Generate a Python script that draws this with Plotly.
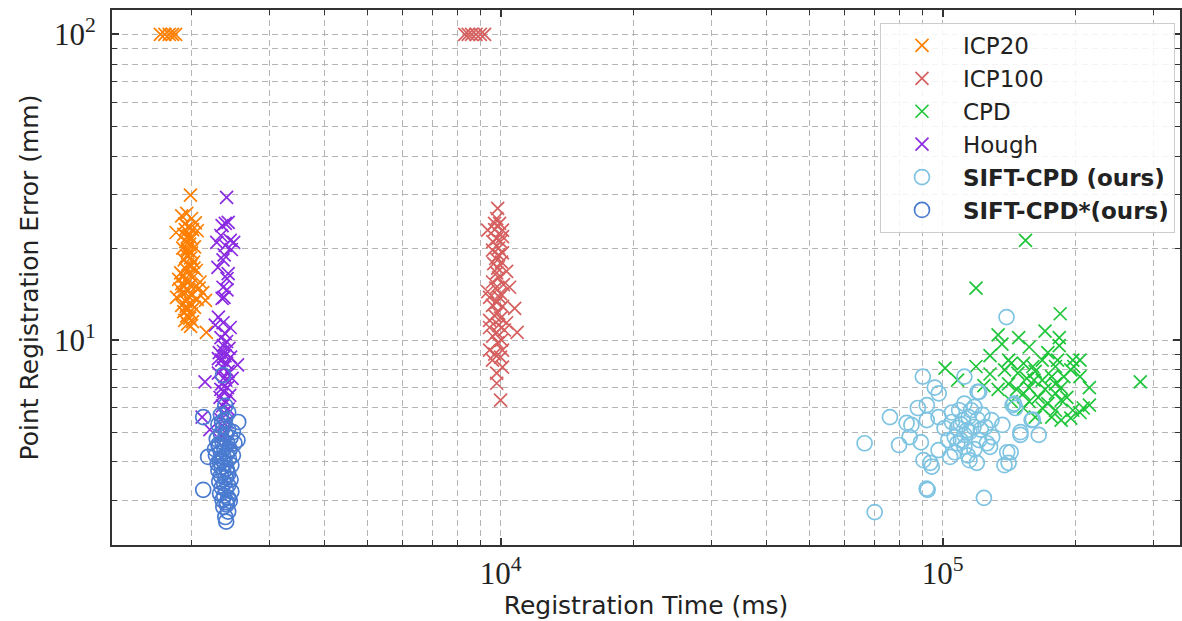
import plotly.graph_objects as go

# ---------------- data ----------------
icp20_time = [1700, 1740, 1780, 1810, 1840,
              1988, 1845, 2160, 1900, 1950, 2000, 2040, 1930, 1970, 2010, 2060, 1920, 1960,
              2000, 1940, 1980, 2030, 1910, 1960, 2000, 1950, 1990, 1925, 2020, 1960, 1990,
              1940, 2050, 1890, 1980, 1920, 2010, 1870, 1950, 2090, 1900, 1985, 2040, 1880,
              1960, 2120, 1910, 2000, 1850, 2060, 1940, 2150, 1990, 1900, 2030, 1960, 1920,
              2000, 1950, 1980, 1930, 2010, 1960, 1990, 1945, 2080, 1970, 1925, 2025, 1955,
              1975, 1935]
icp20_err = [100, 100, 100, 100, 100,
             29.8, 22.5, 10.6, 25.5, 26.0, 25.0, 24.2, 24.0, 23.5, 23.0, 22.8, 22.2, 21.8,
             21.5, 21.0, 20.6, 20.2, 20.0, 19.6, 19.3, 18.9, 18.6, 18.3, 18.0, 17.7, 17.4,
             17.1, 16.9, 16.6, 16.4, 16.2, 16.0, 15.8, 15.6, 15.5, 15.3, 15.1, 14.9, 14.7,
             14.5, 14.3, 14.2, 14.0, 13.8, 13.6, 13.4, 13.5, 13.2, 13.0, 12.8, 12.6, 12.4,
             12.2, 12.0, 11.8, 11.6, 11.5, 11.3, 11.1, 12.9, 14.8, 13.9, 15.0, 17.2, 19.9,
             22.0, 23.0]

icp100_time = [8300, 8450, 8600, 8800, 9000, 9200,
               9850, 9350, 9690, 9950, 10100, 9800, 9590, 10100, 9850, 9800, 10320, 9590,
               10480, 9350, 9444, 9950, 10760, 9590, 9850, 9444, 10320, 10900, 9800, 9444,
               10050, 9444, 10100, 9590, 10100, 9800, 9800, 10000,
               9700, 10000, 9900, 9750, 10050, 9650, 9900, 10150, 9750, 10000, 9800, 10100,
               9700, 10000, 9900, 9600, 10200, 9850, 9700, 10000, 9900, 10100, 9600, 9800]
icp100_err = [100, 100, 100, 100, 100, 100,
              27.0, 22.9, 24.1, 24.1, 22.9, 21.5, 19.7, 19.3, 17.2, 16.6, 16.8, 15.5,
              14.9, 14.4, 13.8, 13.8, 12.7, 13.0, 12.3, 11.6, 11.4, 10.6, 10.6, 11.0,
              10.0, 9.28, 9.28, 8.6, 8.16, 7.8, 7.23, 6.37,
              23.0, 21.0, 20.0, 18.5, 18.0, 17.8, 16.0, 15.2, 14.8, 14.2, 13.3, 12.9,
              12.0, 11.8, 11.2, 10.3, 10.8, 9.8, 9.0, 8.8, 19.0, 21.8, 21.0, 25.0]

cpd_time = [154000, 119000, 184500, 170500, 133500, 136200, 148600, 157000, 183600, 183600,
            128000, 101300, 119000, 108100, 138100, 128000, 280000, 124000, 133500, 152400,
            160000, 168000, 180000, 204500, 198000, 214800, 214800, 197000, 195000, 176500,
            162000, 152400, 143000, 147000, 157000, 168000, 176500, 185400, 180000, 164600,
            157000, 173000, 191000, 204500, 208000, 168000, 148000, 188000, 161000, 180000,
            170500, 185400, 152400, 141000, 180000, 197000, 173000, 182000, 195000, 143000,
            162000, 155000, 141000, 185400, 204500]
cpd_err = [21.2, 14.8, 12.2, 10.7, 10.4, 9.7, 10.2, 9.5, 10.2, 9.6,
           8.9, 8.1, 8.2, 7.4, 8.0, 7.75, 7.3, 7.1, 6.9, 8.4,
           8.2, 8.6, 8.2, 8.6, 8.2, 7.0, 6.13, 5.9, 5.56, 5.6,
           5.6, 6.0, 6.3, 6.9, 7.0, 7.4, 7.6, 7.0, 6.7, 6.5,
           6.3, 6.2, 6.5, 7.6, 6.0, 6.0, 7.8, 7.6, 7.4, 7.2,
           6.9, 6.37, 6.7, 7.2, 5.9, 8.6, 9.1, 8.6, 8.0, 8.4,
           7.9, 7.5, 8.6, 5.48, 5.8]

hough_time = [2400, 2384, 2345, 2420, 2280, 2384, 2490, 2446, 2294, 2356, 2405, 2356, 2405,
              2345, 2368, 2300, 2263, 2356, 2446, 2384, 2420, 2370, 2330, 2460,
              2330, 2400, 2360, 2430, 2310, 2380, 2450, 2340, 2400, 2540, 2360, 2420, 2300,
              2380, 2145, 2340, 2410, 2360, 2440, 2320, 2390, 2350, 2420, 2370, 2113, 2330,
              2400, 2350, 2200, 2380, 2340, 2410, 2360, 2390, 2330, 2470, 2300]
hough_err = [29.3, 24.1, 23.7, 24.3, 20.9, 20.4, 20.9, 21.2, 17.3, 18.3, 15.9, 14.9, 14.6,
             13.7, 13.8, 11.9, 11.2, 11.4, 11.0, 10.5, 16.5, 19.0, 22.0, 19.8,
             10.2, 9.9, 9.6, 9.4, 9.1, 8.9, 8.8, 8.6, 8.4, 8.3, 8.1, 7.9, 7.8,
             7.6, 7.3, 7.2, 7.0, 6.8, 6.6, 6.5, 6.3, 6.1, 5.95, 5.8, 5.6, 5.5,
             5.4, 5.25, 5.1, 5.0, 4.85, 4.7, 9.2, 7.4, 6.9, 7.5, 8.7]

sift_time = [66600, 70200, 76000, 79700, 90200, 96000, 98000, 87900, 92100, 82900, 85000,
             84200, 89300, 92100, 90500, 92500, 93800, 94500, 97900, 97900, 101000, 105000,
             109000, 112000, 121000, 118000, 114500, 111000, 106500, 103000, 104000, 106500,
             112000, 115000, 119500, 121000, 125000, 123000, 129000, 129500, 128000, 113500,
             117500, 108000, 136500, 124000, 141000, 142500, 150000, 150000, 145000, 159000,
             146000, 139500, 112000, 120000, 144000, 160000, 165000, 140000, 138000, 92000,
             110000, 115000, 120000, 108000, 118000, 112000, 122000, 105000, 116000, 126000,
             114000, 110000]
sift_err = [4.6, 2.74, 5.6, 4.54, 7.6, 7.0, 6.7, 6.0, 6.13, 5.36, 5.28,
            4.82, 4.63, 5.48, 4.05, 3.24, 3.97, 3.86, 4.37, 5.6, 5.16, 5.4,
            5.9, 6.2, 6.77, 6.05, 5.6, 5.48, 4.82, 4.71, 4.15, 4.3,
            4.48, 4.05, 3.97, 4.71, 5.2, 5.7, 5.48, 4.82, 4.48, 5.08,
            5.2, 5.16, 5.28, 3.05, 3.97, 4.3, 4.9, 5.0, 6.2, 5.48,
            6.0, 11.9, 7.6, 6.77, 6.13, 5.5, 4.9, 4.3, 3.9, 3.27,
            5.3, 5.0, 5.5, 4.6, 4.4, 4.9, 5.1, 5.8, 5.9, 4.6,
            4.2, 4.7]

siftstar_time = [2356, 2384, 2345, 2550, 2125, 2540, 2180, 2125, 2405, 2440, 2384, 2395, 2420,
                 2300, 2360, 2420, 2480, 2330, 2390, 2450, 2280, 2350, 2410, 2310, 2370, 2440,
                 2330, 2400, 2270, 2360, 2430, 2320, 2380, 2460, 2340, 2400, 2300, 2360, 2420,
                 2330, 2390, 2450, 2310, 2370, 2420, 2340, 2390, 2460, 2320, 2370, 2420, 2350,
                 2400, 2360, 2300, 2430, 2350, 2410, 2290, 2480, 2260, 2500, 2380, 2420, 2330]
siftstar_err = [7.68, 6.1, 5.4, 5.4, 5.6, 4.71, 4.15, 3.24, 2.95, 2.98, 2.64, 2.55, 2.75,
                5.3, 5.2, 5.1, 5.0, 4.95, 4.9, 4.8, 4.75, 4.65, 4.6, 4.5, 4.45, 4.4,
                4.3, 4.25, 4.2, 4.15, 4.1, 4.0, 3.95, 3.9, 3.85, 3.8, 3.75, 3.7, 3.65,
                3.6, 3.55, 3.5, 3.45, 3.4, 3.35, 3.3, 3.25, 3.2, 3.15, 3.1, 3.05, 3.0,
                2.9, 2.85, 4.55, 4.35, 4.05, 3.72, 3.95, 4.2, 4.4, 4.6, 5.5, 5.8, 5.7]

series_names = ["ICP20", "ICP100", "CPD", "Hough",
                "<b>SIFT-CPD (ours)</b>", "<b>SIFT-CPD*(ours)</b>"]

x_major = [1e4, 1e5]
x_major_text = ["10<sup>4</sup>", "10<sup>5</sup>"]
x_minor = [2000, 3000, 4000, 5000, 6000, 7000, 8000, 9000,
           20000, 30000, 40000, 50000, 60000, 70000, 80000, 90000, 200000, 300000]
y_major = [10, 100]
y_major_text = ["10<sup>1</sup>", "10<sup>2</sup>"]
y_minor = [3, 4, 5, 6, 7, 8, 9, 20, 30, 40, 50, 60, 70, 80, 90]

# ---------------- figure ----------------
styles = [
    (icp20_time, icp20_err, "x-thin", "#ff7f00", 13),
    (icp100_time, icp100_err, "x-thin", "#d65f5f", 13),
    (cpd_time, cpd_err, "x-thin", "#1fc63a", 13),
    (hough_time, hough_err, "x-thin", "#8a2be2", 13),
    (sift_time, sift_err, "circle-open", "#7ec4e2", 15),
    (siftstar_time, siftstar_err, "circle-open", "#4a7bd0", 15),
]

fig = go.Figure()
for name, (xs, ys, sym, col, size) in zip(series_names, styles):
    fig.add_trace(go.Scatter(
        x=xs, y=ys, mode="markers", name=name,
        marker=dict(symbol=sym, size=size, color=col, line=dict(color=col, width=1.7)),
    ))

grid_col = "#b4b4b4"
axis_common = dict(
    type="log", showline=True, linecolor="#333333", linewidth=2, mirror="ticks",
    ticks="inside", ticklen=7, tickwidth=1.5, tickcolor="#333333",
    showgrid=True, gridcolor=grid_col, gridwidth=1, griddash="6px,4px",
    zeroline=False,
    tickfont=dict(family="Liberation Serif, serif", size=31, color="#222222"),
)

title_font = dict(family="DejaVu Sans, sans-serif", size=25, color="#222222")

fig.update_xaxes(
    **axis_common,
    range=[3.121, 5.537],
    tickmode="array", tickvals=x_major, ticktext=x_major_text,
    minor=dict(tickmode="array", tickvals=x_minor, ticks="inside", ticklen=5,
               tickwidth=1, tickcolor="#333333",
               showgrid=True, gridcolor=grid_col, gridwidth=1, griddash="6px,4px"),
    title=dict(text="Registration Time (ms)", standoff=5, font=title_font),
)
fig.update_yaxes(
    **axis_common,
    range=[0.330, 2.080],
    tickmode="array", tickvals=y_major, ticktext=y_major_text,
    ticklabelstandoff=8,
    minor=dict(tickmode="array", tickvals=y_minor, ticks="inside", ticklen=5,
               tickwidth=1, tickcolor="#333333",
               showgrid=True, gridcolor=grid_col, gridwidth=1, griddash="6px,4px"),
    title=dict(text="Point Registration Error (mm)", standoff=8, font=title_font),
)

fig.update_layout(
    width=1182, height=621,
    margin=dict(l=112, r=0, t=10, b=76),
    paper_bgcolor="white", plot_bgcolor="white",
    showlegend=True,
    legend=dict(
        x=0.9953, y=0.9757, xanchor="right", yanchor="top",
        bgcolor="rgba(255,255,255,0.85)", bordercolor="#cccccc", borderwidth=1,
        font=dict(family="DejaVu Sans, sans-serif", size=23, color="#222222"),
        itemwidth=72,
    ),
)

fig.write_html("out.html")
